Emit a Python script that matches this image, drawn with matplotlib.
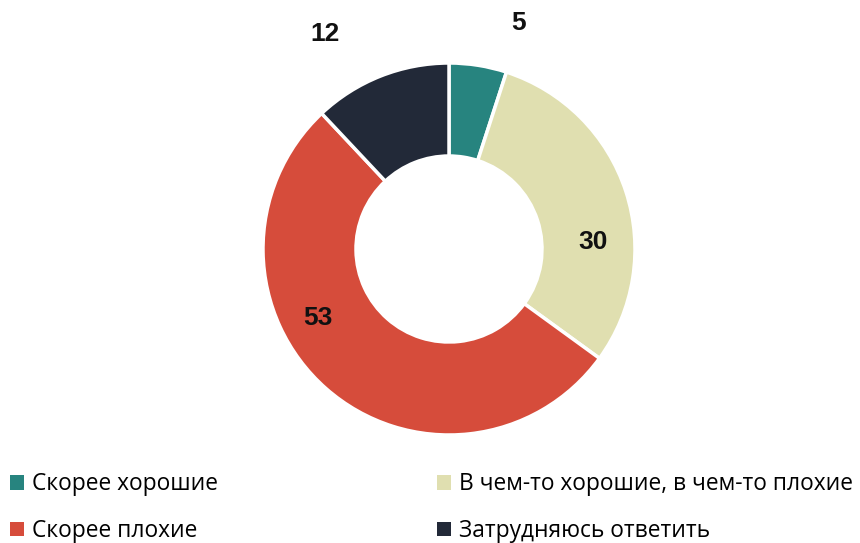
import matplotlib.pyplot as plt
from matplotlib.patches import Patch

categories = ["Скорее хорошие", "В чем-то хорошие, в чем-то плохие",
              "Скорее плохие", "Затрудняюсь ответить"]
values = [5, 30, 53, 12]
colors = ["#27847f", "#e0dfb0", "#d64c3b", "#222938"]

# label text positions (x, y) relative to pie radius
label_pos = [(0.376, 1.215), (0.774, 0.04), (-0.704, -0.37), (-0.667, 1.155)]

fig = plt.figure(figsize=(8.6, 5.43), dpi=100)
cx, cy, r = 449, 543 - 249, 186
ax = fig.add_axes([(cx - r) / 860, (cy - r) / 543, 2 * r / 860, 2 * r / 543])

ax.pie(values, colors=colors, startangle=90, counterclock=False, radius=1,
       wedgeprops=dict(width=0.5, edgecolor="white", linewidth=2.5))
ax.set_xlim(-1, 1)
ax.set_ylim(-1, 1)
ax.set_aspect("equal")
ax.axis("off")

for v, (x, y) in zip(values, label_pos):
    ax.text(x, y, str(v), ha="center", va="center", fontsize=19,
            fontweight="bold", family="Liberation Sans", color="#111111")

handles = [Patch(facecolor=c) for c in colors]
order = [0, 2, 1, 3]
leg = fig.legend([handles[i] for i in order], [categories[i] for i in order],
                 ncol=2, loc="lower left", bbox_to_anchor=(10 / 860, 0.0),
                 frameon=False, handlelength=0.62, handleheight=0.62,
                 handletextpad=0.35, labelspacing=1.0, columnspacing=9.6,
                 borderaxespad=0, borderpad=0,
                 prop={"family": "Open Sans", "size": 16.4})

fig.savefig("out.png", dpi=100)
